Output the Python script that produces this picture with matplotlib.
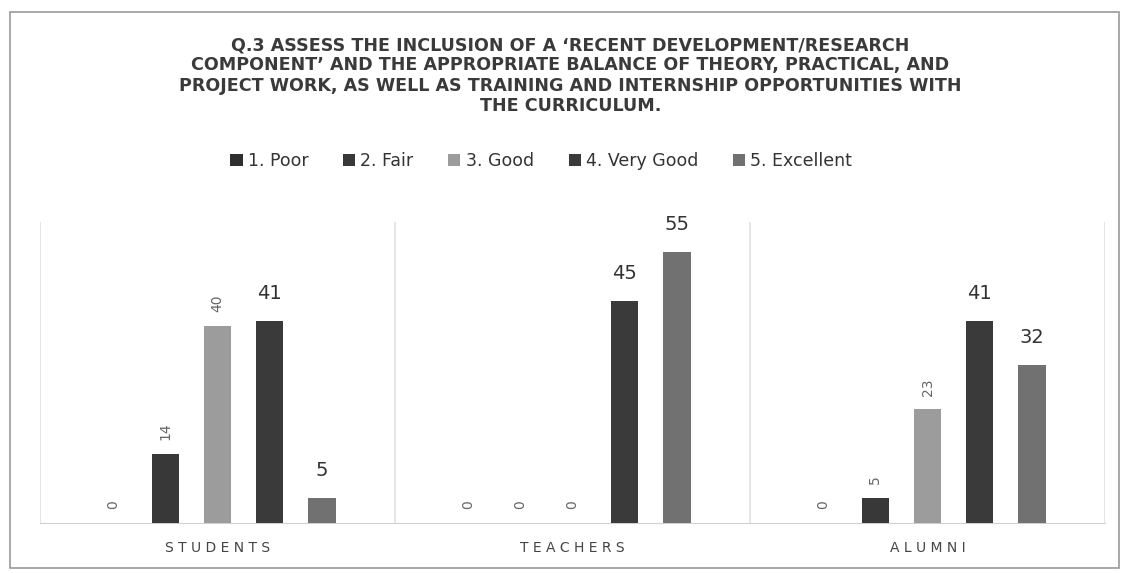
import numpy as np
import matplotlib.pyplot as plt
from matplotlib.patches import Rectangle

# datos
groups = ["STUDENTS", "TEACHERS", "ALUMNI"]
series = ["1. Poor", "2. Fair", "3. Good", "4. Very Good", "5. Excellent"]
poor = [0, 0, 0]
fair = [14, 0, 5]
good = [40, 0, 23]
very_good = [41, 45, 41]
excellent = [5, 55, 32]

title = ("Q.3 ASSESS THE INCLUSION OF A \u2018RECENT DEVELOPMENT/RESEARCH\n"
         "COMPONENT\u2019 AND THE APPROPRIATE BALANCE OF THEORY, PRACTICAL, AND\n"
         "PROJECT WORK, AS WELL AS TRAINING AND INTERNSHIP OPPORTUNITIES WITH\n"
         "THE CURRICULUM.")

values = [poor, fair, good, very_good, excellent]
colors = ["#2e2e2e", "#383838", "#9c9c9c", "#3a3a3a", "#717171"]

fig = plt.figure(figsize=(11.23, 5.73), dpi=100)
ax = fig.add_axes([0.0356, 0.0873, 0.9484, 0.5253])

x = np.arange(len(groups))
step = 0.147
width = 0.077
for j, (vals, name) in enumerate(zip(values, series)):
    pos = x + (j - 2) * step
    bars = ax.bar(pos, vals, width, color=colors[j], label=name, zorder=3)
    for b, v in zip(bars, vals):
        cx = b.get_x() + b.get_width() / 2
        if j >= 3:
            # etiquetas horizontales grandes
            ax.annotate(str(v), (cx, v), xytext=(0, 13), textcoords="offset points",
                        ha="center", va="bottom", fontsize=14, color="#333333")
        else:
            # etiquetas giradas
            ax.annotate(str(v), (cx, v), xytext=(0, 10), textcoords="offset points",
                        ha="center", va="bottom", rotation=90, fontsize=10,
                        color="#666666")

ax.set_xlim(-0.5, 2.5)
ax.set_ylim(0, 61)
ax.set_yticks([])
ax.set_xticks(x)
ax.set_xticklabels([" ".join(g) for g in groups], fontsize=10, color="#444444")
ax.tick_params(axis="x", length=0, pad=13)
for s in ["top", "right", "left"]:
    ax.spines[s].set_visible(False)
ax.spines["bottom"].set_color("#d0d0d0")
for b in [-0.5, 0.5, 1.5, 2.5]:
    ax.axvline(b, color="#e0e0e0", lw=1.2, zorder=1)

fig.text(0.508, 0.937, title, ha="center", va="top", fontsize=12.6,
         fontweight="bold", color="#3a3a3a", linespacing=1.17)

fig.legend(loc="center", bbox_to_anchor=(0.482, 0.719), ncol=5, frameon=False,
           fontsize=12.5, handlelength=0.7, handleheight=0.7, columnspacing=2.0,
           handletextpad=0.3, labelcolor="#333333")

fig.patches.append(Rectangle((10 / 1123, 1 - 568 / 573), 1109 / 1123, 556 / 573,
                             transform=fig.transFigure, fill=False,
                             edgecolor="#9a9a9a", lw=1.2))

fig.savefig("out.png", dpi=100)
